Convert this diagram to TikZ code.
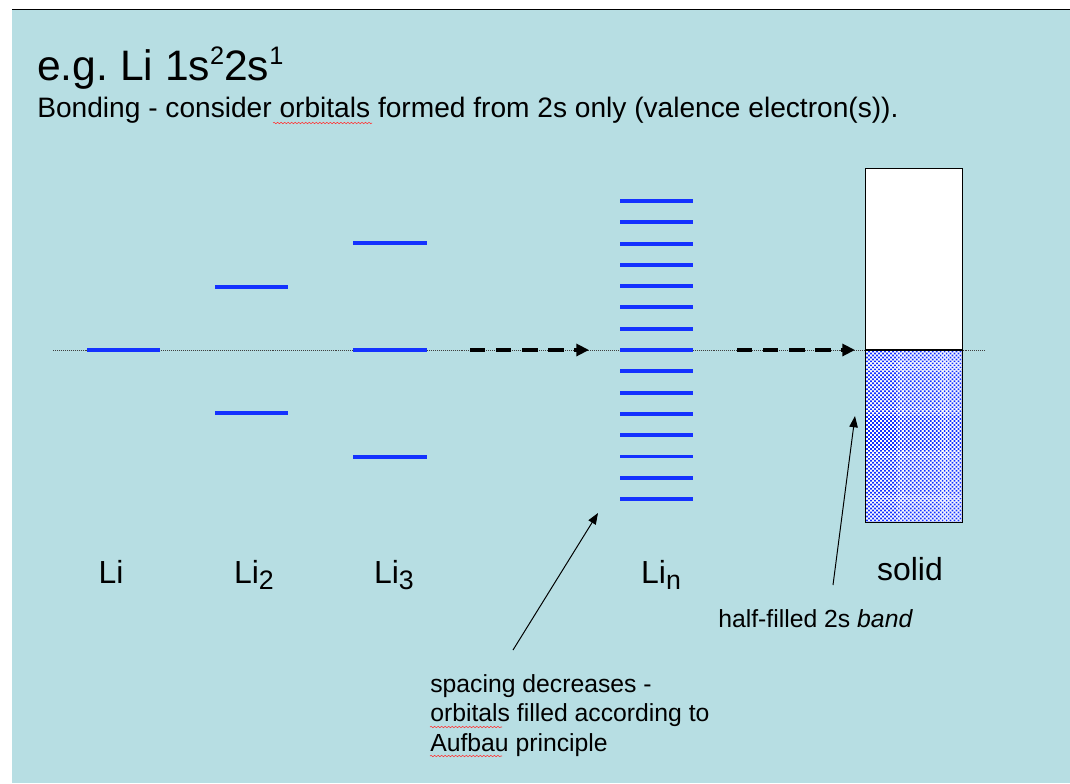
\documentclass[tikz,border=0pt]{standalone}
\usepackage{fontspec}
\setmainfont{Liberation Sans}
\usetikzlibrary{positioning,calc}
\usetikzlibrary{arrows.meta,patterns.meta,decorations.pathmorphing}
\definecolor{SlideBlue}{RGB}{183,222,227}
\definecolor{LevelBlue}{RGB}{20,50,255}
\newcommand{\lisub}[1]{\raisebox{-0.2em}{\fontsize{19}{20}\selectfont #1}}
\newcommand{\lisup}[1]{\raisebox{0.36em}{\fontsize{18}{20}\selectfont #1}}
\tikzset{
  lvl/.style={draw=LevelBlue,line width=2.8pt},
  axisline/.style={draw=black!75,line width=0.5pt,dash pattern=on 0.7pt off 0.7pt},
  flow/.style={draw=black,line width=2.6pt,dash pattern=on 11pt off 7.5pt,
    -{Triangle[length=9pt,width=8.5pt]}},
  ptr/.style={draw=black,line width=0.7pt,-{Triangle[length=8pt,width=6pt]}},
  lab/.style={font=\fontsize{22.7}{27}\selectfont,anchor=base,inner sep=0pt},
  note/.style={font=\fontsize{17.6}{21}\selectfont,align=left,inner sep=0pt},
  spell/.style={draw=red!80,line width=0.4pt,decorate,
    decoration={snake,amplitude=0.5pt,segment length=2.5pt}},
}

\begin{document}
\begin{tikzpicture}[x=0.025cm,y=-0.025cm]
    \useasboundingbox (0,0) rectangle (1070,783);
    \fill[SlideBlue] (12,10) rectangle (1070,783);
    \draw[line width=1pt] (12,9.5) -- (1070,9.5);

    % heading
    \node[anchor=base west,inner sep=0pt,font=\fontsize{30.3}{34}\selectfont] (title) at (37,80)
      {e.g.\ Li 1s\lisup{2}2s\lisup{1}};
    \node[anchor=base west,inner sep=0pt,font=\fontsize{20}{24}\selectfont] (intro) at (37,117)
      {Bonding - consider orbitals formed from 2s only (valence electron(s)).};
    \draw[spell] (273,123) -- (372,123);

    % energy axis
    \draw[axisline] (53,350) -- (985,350);

    % Li, Li2, Li3
    \draw[lvl] (87,350) -- (160,350);
    \foreach \y in {287,413}
      \draw[lvl] (215,\y) -- (288,\y);
    \foreach \y in {243,350,457}
      \draw[lvl] (353,\y) -- (427,\y);

    % Li_n
    \foreach \i in {0,...,14}
      \draw[lvl] (620,201+21.29*\i) -- (693,201+21.29*\i);

    % solid: band
    \node[draw=black,line width=0.9pt,fill=white,minimum width=97*0.025cm,
      minimum height=181*0.025cm,inner sep=0pt,anchor=south west] (empty) at (865,350) {};
    \fill[white] (865,350) rectangle (962,522);
    \fill[pattern={Dots[distance=2pt,radius=0.85pt,angle=45]},pattern color=LevelBlue]
      (865,350) rectangle (962,522);
    \node[draw=black,line width=0.9pt,minimum width=97*0.025cm,
      minimum height=172*0.025cm,inner sep=0pt,anchor=north west] (filled) at (865,350) {};

    % dashed arrows
    \coordinate (f1a) at (470,350);
    \coordinate (f1b) at (589,350);
    \coordinate (f2a) at (737,350);
    \coordinate (f2b) at (855,350);
    \draw[flow] (f1a) -- (f1b);
    \draw[flow] (f2a) -- (f2b);

    % labels
    \node[lab] (li) at (111,583) {Li};
    \node[lab] (li2) at (254,583) {Li\lisub{2}};
    \node[lab] (li3) at (394,583) {Li\lisub{3}};
    \node[lab] (lin) at (661,583) {Li\lisub{n}};
    \node[lab] (solid) at (910,580) {solid};

    % notes
    \node[note,anchor=base west] (band) at (718,627) {half-filled 2s \textit{band}};
    \node[note,anchor=north west] (spacing) at (430,674)
      {spacing decreases -\\orbitals filled according to\\Aufbau principle};
    \draw[spell] (430,727) -- (502,727);
    \draw[spell] (430,756) -- (502,756);

    \coordinate (p1a) at (513,650);
    \coordinate (p1b) at (598,513);
    \coordinate (p2a) at (833,585);
    \coordinate (p2b) at (855,416);
    \draw[ptr] (p1a) -- (p1b);
    \draw[ptr] (p2a) -- (p2b);
  \end{tikzpicture}
\end{document}
